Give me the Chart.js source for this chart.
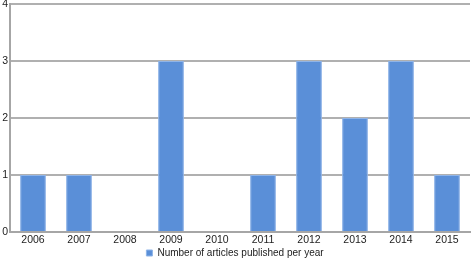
<!DOCTYPE html>
<html>
<head>
<meta charset="utf-8">
<script src="https://cdn.jsdelivr.net/npm/chart.js@4/dist/chart.umd.min.js"></script>
<style>
  html, body { margin: 0; padding: 0; background: #fff; }
  #wrap { width: 472px; height: 263px; }
</style>
</head>
<body>
<div id="wrap"><canvas id="chart1" width="472" height="263"></canvas></div>
<script>
// Number of articles published per year
const years = ['2006', '2007', '2008', '2009', '2010', '2011', '2012', '2013', '2014', '2015'];
const articleCounts = [1, 1, 0, 3, 0, 1, 3, 2, 3, 1];
const seriesLabel = 'Number of articles published per year';

// keep the legend strip compact, like the original
const legendHeight = {
    id: 'legendHeight',
    beforeLayout: function(chart) {
        const lg = chart.legend;
        if (!lg || lg._fitPatched) return;
        const origFit = lg.fit;
        lg.fit = function() {
            origFit.call(this);
            this.height = 19;
        };
        lg._fitPatched = true;
    }
};

const ctx1 = document.getElementById('chart1').getContext('2d');
const chart1 = new Chart(ctx1, {
    type: 'bar',
    data: {
        labels: years,
        datasets: [{
            label: seriesLabel,
            data: articleCounts,
            backgroundColor: '#5a8fd8',
            borderColor: '#8fb4e8',
            borderWidth: 1,
            barPercentage: 0.56,
            categoryPercentage: 1
        }]
    },
    options: {
        responsive: false,
        animation: false,
        layout: { padding: { top: 4, right: 2, left: 0, bottom: 0 } },
        scales: {
            x: {
                grid: { display: false, drawTicks: false },
                border: { color: '#a6a6a6', width: 2 },
                ticks: { color: '#222', font: { family: 'Liberation Sans', size: 10.5 }, padding: 2, maxRotation: 0 },
                afterFit: function(scale) { scale.height = 12; }
            },
            y: {
                min: 0,
                max: 4,
                ticks: { stepSize: 1, color: '#222', font: { family: 'Liberation Sans', size: 10.5 }, padding: 2 },
                grid: { color: '#b0b0b0', lineWidth: 2, drawTicks: false },
                border: { color: '#a6a6a6', width: 2 },
                afterFit: function(scale) {
                    scale.width = 10;
                    scale.paddingTop = 0;
                    scale.paddingBottom = 0;
                }
            }
        },
        plugins: {
            legend: {
                position: 'bottom',
                labels: {
                    boxWidth: 6,
                    boxHeight: 6,
                    padding: 4,
                    color: '#222',
                    font: { family: 'Liberation Sans', size: 10 }
                }
            },
            tooltip: { enabled: false }
        }
    },
    plugins: [legendHeight]
});
</script>
</body>
</html>
